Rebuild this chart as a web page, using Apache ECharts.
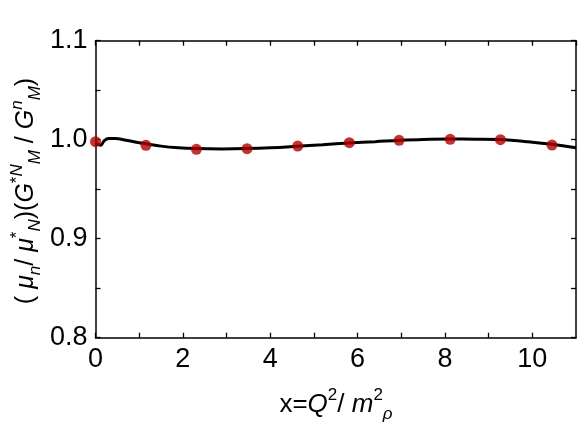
<!DOCTYPE html>
<html>
<head>
<meta charset="utf-8">
<script src="https://cdn.jsdelivr.net/npm/echarts@6/dist/echarts.min.js"></script>
<style>
  html, body { margin: 0; padding: 0; background: #fff; }
  #chart { width: 581px; height: 433px; }
</style>
</head>
<body>
<div id="chart"></div>
<script>
// curve: ratio vs x = Q^2/m_rho^2
var curveX = [0, 0.05, 0.12, 0.2, 0.3, 0.45, 0.7, 1.0, 1.15, 1.5, 1.9, 2.3, 2.9, 3.45, 4.0, 4.6, 5.2, 5.8, 6.4, 6.95, 7.5, 8.1, 8.7, 9.25, 9.9, 10.45, 11];
var curveY = [0.9967, 0.9955, 0.9945, 0.999, 1.0012, 1.0012, 0.9995, 0.997, 0.996, 0.9935, 0.9918, 0.991, 0.9907, 0.991, 0.9918, 0.9933, 0.995, 0.9967, 0.998, 0.9993, 1.0002, 1.0006, 1.0005, 1.0001, 0.998, 0.9953, 0.9918];

// red points
var pointX = [0, 1.155, 2.31, 3.47, 4.63, 5.81, 6.95, 8.12, 9.27, 10.45];
var pointY = [0.998, 0.9943, 0.9903, 0.9909, 0.9936, 0.997, 0.9994, 1.0004, 1.0, 0.9946];

var xTicks = [0, 2, 4, 6, 8, 10];
var yTicks = [0.8, 0.9, 1.0, 1.1];

function zip(a, b) {
    var out = [];
    for (var i = 0; i < a.length; i++) out.push([a[i], b[i]]);
    return out;
}

var chart = echarts.init(document.getElementById('chart'));
var labelFont = 'Liberation Sans, Arial, Helvetica, sans-serif';

function axisCommon(extra) {
    var base = {
        type: 'value',
        axisLine: {show: true, onZero: false, lineStyle: {color: '#000', width: 1.5}},
        axisTick: {show: true, inside: true, length: 5, lineStyle: {color: '#000', width: 1.3}},
        splitLine: {show: false}
    };
    for (var k in extra) base[k] = extra[k];
    return base;
}

function mathRich(size, small) {
    return {
        n: {fontSize: size, fontFamily: labelFont, fill: '#000', lineHeight: size + 10},
        i: {fontSize: size, fontFamily: labelFont, fontStyle: 'italic', fill: '#000', lineHeight: size + 10},
        sup: {fontSize: small, fontFamily: labelFont, fill: '#000', verticalAlign: 'top', lineHeight: small},
        isup: {fontSize: small, fontFamily: labelFont, fontStyle: 'italic', fill: '#000', verticalAlign: 'top', lineHeight: small},
        sub: {fontSize: small, fontFamily: labelFont, fontStyle: 'italic', fill: '#000', verticalAlign: 'bottom', lineHeight: small}
    };
}

var option = {
    animation: false,
    backgroundColor: '#fff',
    grid: {left: 95.5, right: 5, top: 40.7, bottom: 95.3},
    xAxis: [
        axisCommon({
            min: 0, max: 11, interval: 1,
            axisLabel: {
                show: true, color: '#000', fontSize: 27, fontFamily: labelFont, margin: 8,
                showMaxLabel: false,
                formatter: function (v) {
                    return xTicks.indexOf(Math.round(v)) >= 0 ? String(Math.round(v)) : '';
                }
            }
        }),
        axisCommon({
            position: 'top', min: 0, max: 11, interval: 1,
            axisLabel: {show: false}
        })
    ],
    yAxis: [
        axisCommon({
            min: 0.8, max: 1.1, interval: 0.05,
            axisLabel: {
                show: true, color: '#000', fontSize: 27, fontFamily: labelFont, margin: 8,
                formatter: function (v) {
                    var r = Math.round(v * 10) / 10;
                    for (var i = 0; i < yTicks.length; i++) {
                        if (Math.abs(yTicks[i] - v) < 1e-6) return r.toFixed(1);
                    }
                    return '';
                }
            }
        }),
        axisCommon({
            position: 'right', min: 0.8, max: 1.1, interval: 0.05,
            axisLabel: {show: false}
        })
    ],
    series: [
        {
            type: 'line',
            data: zip(curveX, curveY),
            smooth: 0.4,
            showSymbol: false,
            lineStyle: {color: '#000', width: 3},
            z: 2
        },
        {
            type: 'scatter',
            data: zip(pointX, pointY),
            symbol: 'circle',
            symbolSize: 11,
            itemStyle: {color: '#b00000'},
            z: 3
        }
    ],
    graphic: [
        {
            type: 'text',
            x: 336,
            y: 405,
            style: {
                fontFamily: labelFont,
                fontSize: 26,
                fill: '#000',
                align: 'center',
                verticalAlign: 'middle',
                rich: mathRich(26, 17),
                text: '{n|x=}{i|Q}{sup|2}{n|/ }{i|m}{sup|2}{sub|ρ}'
            }
        },
        {
            type: 'text',
            x: 26,
            y: 191,
            rotation: Math.PI / 2,
            style: {
                fontFamily: labelFont,
                fontSize: 25,
                fill: '#000',
                align: 'center',
                verticalAlign: 'middle',
                rich: mathRich(25, 17),
                text: '{n|( }{i|μ}{sub|n}{n|/ }{i|μ}{sup|*}{sub|N}{n|)(}{i|G}{sup|*}{isup|N}{sub|M}{n| / }{i|G}{isup|n}{sub|M}{n|)}'
            }
        }
    ]
};
chart.setOption(option);
</script>
</body>
</html>
